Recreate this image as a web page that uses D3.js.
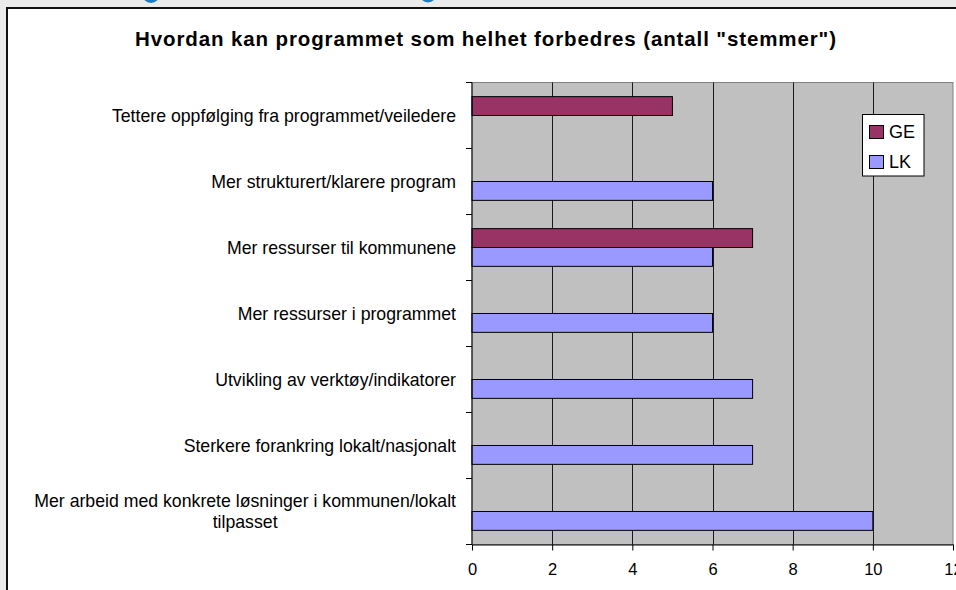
<!DOCTYPE html>
<html>
<head>
<meta charset="utf-8">
<script src="https://cdn.jsdelivr.net/npm/d3@7"></script>
<style>
  html, body { margin: 0; padding: 0; background: #ebebeb; overflow: hidden; }
  svg { display: block; font-family: "Liberation Sans", Arial, sans-serif; }
</style>
</head>
<body>
<svg id="chart"></svg>
<script>
/* ---------- data ---------- */
const categories = [
  "Tettere oppfølging fra programmet/veiledere",
  "Mer strukturert/klarere program",
  "Mer ressurser til kommunene",
  "Mer ressurser i programmet",
  "Utvikling av verktøy/indikatorer",
  "Sterkere forankring lokalt/nasjonalt",
  "Mer arbeid med konkrete løsninger i kommunen/lokalt tilpasset"
];
const seriesNames = ["GE", "LK"];
const geValues = [5, null, 7, null, null, null, null];
const lkValues = [null, 6, 6, 6, 7, 7, 10];
const xTicks = [0, 2, 4, 6, 8, 10, 12];
const title = 'Hvordan kan programmet som helhet forbedres (antall "stemmer")';

/* ---------- setup ---------- */
const width = 956, height = 590;
const plot = { left: 472, right: 953, top: 82.5, bottom: 544.5 };
const colors = { GE: "#993366", LK: "#9999ff" };

const svg = d3.select("#chart").attr("width", width).attr("height", height);

// slide background bits above the chart frame
svg.append("rect").attr("width", width).attr("height", height).attr("fill", "#ebebeb");
svg.append("circle").attr("cx", 151).attr("cy", -6).attr("r", 9).attr("fill", "#1f7cc4");
svg.append("circle").attr("cx", 428).attr("cy", -6).attr("r", 8.5).attr("fill", "#1f7cc4");

// chart frame
svg.append("rect")
  .attr("x", 7).attr("y", 8).attr("width", 1000).attr("height", 700)
  .attr("fill", "#fff").attr("stroke", "#111").attr("stroke-width", 2);

const x = d3.scaleLinear().domain([0, 12]).range([plot.left, plot.right]);
const y = d3.scaleBand().domain(categories).range([plot.top, plot.bottom]).padding(0);
const ySub = d3.scaleBand().domain(seriesNames).range([0, y.bandwidth()])
  .paddingInner(0).paddingOuter(0.75);

const rows = categories.map((c, i) => ({ cat: c, GE: geValues[i], LK: lkValues[i] }));

/* ---------- plot area ---------- */
svg.append("rect")
  .attr("x", plot.left).attr("y", plot.top)
  .attr("width", plot.right - plot.left).attr("height", plot.bottom - plot.top)
  .attr("fill", "#c0c0c0").attr("stroke", "#808080").attr("stroke-width", 1);

svg.append("g").selectAll("line")
  .data(xTicks.filter(t => t > 0 && t < 12)).enter().append("line")
    .attr("x1", d => Math.round(x(d)) + 0.5).attr("x2", d => Math.round(x(d)) + 0.5)
    .attr("y1", plot.top).attr("y2", plot.bottom)
    .attr("stroke", "#1a1a1a").attr("stroke-width", 1);

/* ---------- bars ---------- */
const bars = svg.append("g");
seriesNames.forEach(s => {
  bars.selectAll(".bar-" + s)
    .data(rows.filter(d => d[s] != null)).enter().append("rect")
      .attr("class", "bar-" + s)
      .attr("x", plot.left)
      .attr("y", d => y(d.cat) + ySub(s))
      .attr("width", d => x(d[s]) - plot.left)
      .attr("height", ySub.bandwidth())
      .attr("fill", colors[s])
      .attr("stroke", "#000").attr("stroke-width", 1);
});

/* ---------- axes ---------- */
const xAxis = svg.append("g")
  .attr("transform", `translate(0,${plot.bottom})`)
  .call(d3.axisBottom(x).tickValues(xTicks).tickSizeInner(6).tickSizeOuter(0));
xAxis.select(".domain").attr("stroke", "#000");
xAxis.selectAll(".tick line").attr("stroke", "#000");
xAxis.selectAll(".tick text")
  .attr("y", 30).attr("dy", 0)
  .attr("font-size", 16.5).attr("fill", "#000")
  .style("font-family", "'Liberation Sans', Arial, sans-serif");

const yAxis = svg.append("g");
yAxis.append("line")
  .attr("x1", plot.left).attr("x2", plot.left)
  .attr("y1", plot.top).attr("y2", plot.bottom)
  .attr("stroke", "#000");
yAxis.selectAll(".ytick")
  .data(categories.map(c => y(c)).concat([plot.bottom])).enter().append("line")
    .attr("class", "ytick")
    .attr("x1", plot.left - 6).attr("x2", plot.left)
    .attr("y1", d => d).attr("y2", d => d)
    .attr("stroke", "#000");

/* ---------- category labels ---------- */
const labelRight = 456, labelMax = 450, lineH = 21;
const labelG = svg.append("g").attr("font-size", 17.7).attr("fill", "#000");

labelG.selectAll("g").data(categories).enter().append("g")
  .each(function(c) {
    const g = d3.select(this);
    const probe = g.append("text");
    const words = c.split(" ");
    const lines = [];
    let cur = [];
    words.forEach(w => {
      probe.text(cur.concat([w]).join(" "));
      if (cur.length && probe.node().getComputedTextLength() > labelMax) {
        lines.push(cur.join(" "));
        cur = [w];
      } else cur.push(w);
    });
    lines.push(cur.join(" "));
    const widths = lines.map(l => { probe.text(l); return probe.node().getComputedTextLength(); });
    probe.remove();
    const maxW = d3.max(widths);
    const cx = labelRight - maxW / 2;
    const cy = y(c) + y.bandwidth() / 2;
    lines.forEach((l, i) => {
      g.append("text")
        .attr("x", cx)
        .attr("y", cy + (i - (lines.length - 1) / 2) * lineH + 6.2)
        .attr("text-anchor", "middle")
        .text(l);
    });
  });

/* ---------- title ---------- */
svg.append("text")
  .attr("x", 485.5).attr("y", 45.5)
  .attr("text-anchor", "middle")
  .attr("font-size", 20.5).attr("font-weight", "bold").attr("fill", "#000")
  .attr("textLength", 701).attr("lengthAdjust", "spacing")
  .text(title);

/* ---------- legend ---------- */
const legend = svg.append("g").attr("transform", "translate(862.5,114.5)");
legend.append("rect")
  .attr("width", 61.5).attr("height", 61.5)
  .attr("fill", "#fff").attr("stroke", "#000");
legend.selectAll("g").data(seriesNames).enter().append("g")
  .attr("transform", (d, i) => `translate(0,${i * 30})`)
  .call(g => {
    g.append("rect").attr("x", 7).attr("y", 11).attr("width", 14).attr("height", 13)
      .attr("fill", d => colors[d]).attr("stroke", "#000");
    g.append("text").attr("x", 26.5).attr("y", 23)
      .attr("font-size", 18).attr("fill", "#000").text(d => d);
  });
</script>
</body>
</html>
